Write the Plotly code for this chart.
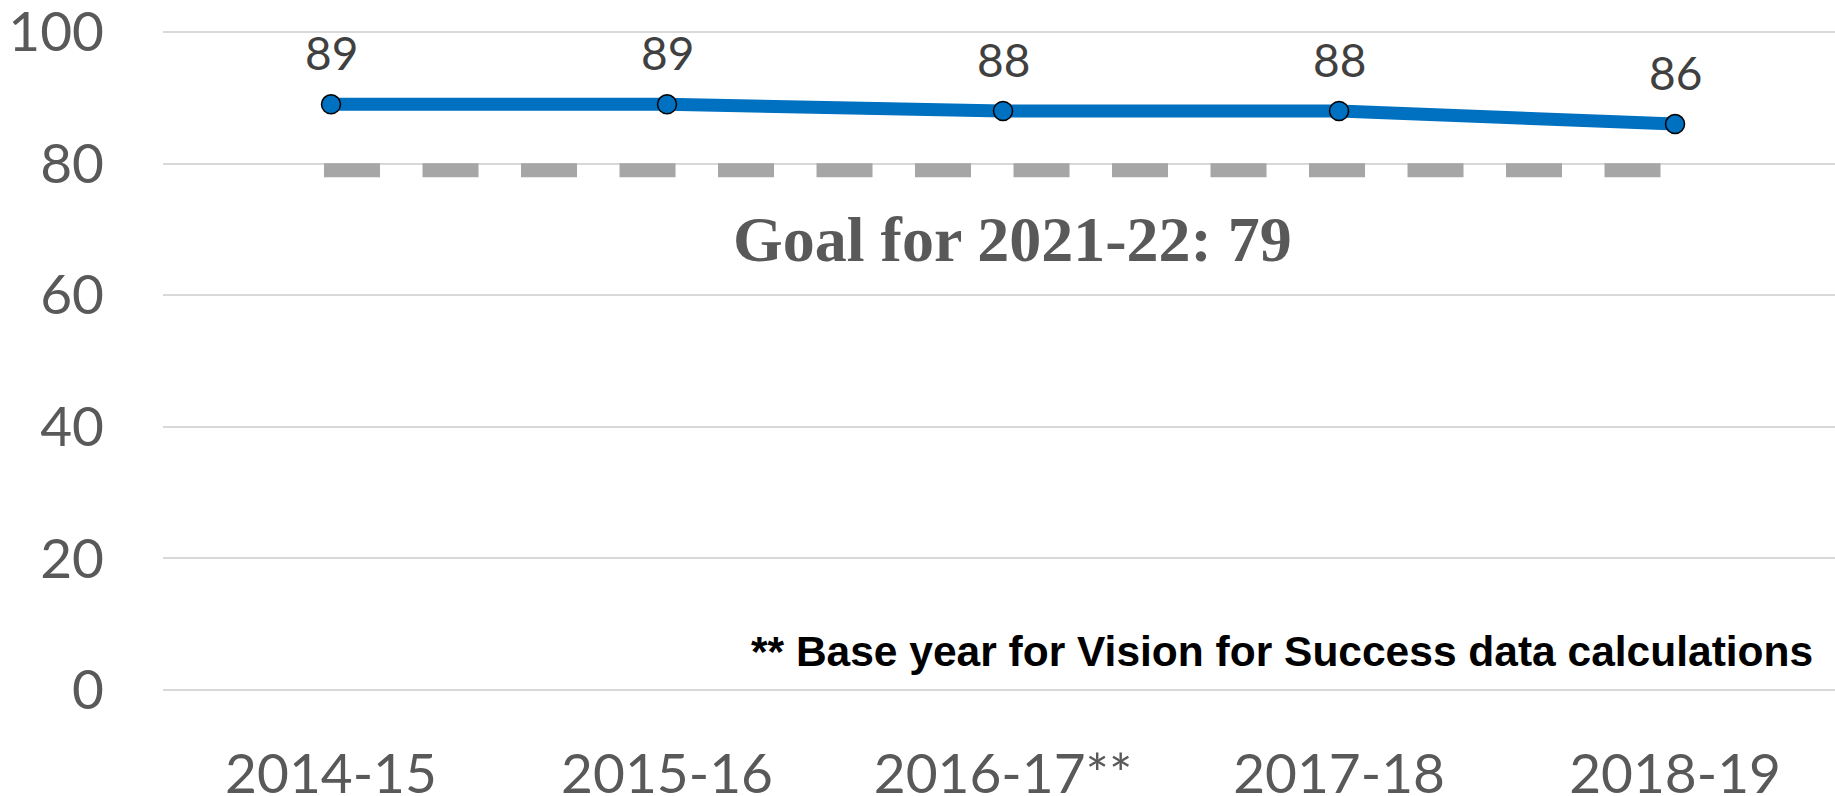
import plotly.graph_objects as go

categories = ["2014-15", "2015-16", "2016-17**", "2017-18", "2018-19"]
values = [89, 89, 88, 88, 86]
goal_value = 79
goal_label = "Goal for 2021-22: 79"
footnote = "** Base year for Vision for Success data calculations"
y_ticks = [0, 20, 40, 60, 80, 100]

x_idx = list(range(len(categories)))

# goal line emulates round caps by extending half its width past the end categories
goal_width = 14
px_per_cat = 336
cap = goal_width / 2 / px_per_cat

fig = go.Figure()

# Goal dashed line
fig.add_trace(go.Scatter(
    x=[x_idx[0] - cap, x_idx[-1] + cap], y=[goal_value, goal_value],
    mode="lines",
    line=dict(color="#A6A6A6", width=goal_width, dash="56px,42.5px"),
    hoverinfo="skip", showlegend=False,
))

# Main series
fig.add_trace(go.Scatter(
    x=x_idx, y=values,
    mode="lines+markers",
    line=dict(color="#0070C0", width=13),
    marker=dict(size=19, color="#0070C0", line=dict(color="black", width=1.5)),
    showlegend=False,
))

annotations = []
for xi, v in zip(x_idx, values):
    annotations.append(dict(
        x=xi, y=v, xref="x", yref="y", text=str(v), showarrow=False,
        yanchor="bottom", xanchor="center", yshift=22,
        font=dict(family="Lato", size=46, color="#404040"),
    ))

annotations.append(dict(
    x=0.508, y=0.683, xref="paper", yref="paper", text="<b>" + goal_label + "</b>",
    showarrow=False, xanchor="center", yanchor="middle",
    font=dict(family="Liberation Serif", size=64, color="#595959"),
))
annotations.append(dict(
    x=0.988, y=0.059, xref="paper", yref="paper", text="<b>" + footnote + "</b>",
    showarrow=False, xanchor="right", yanchor="middle",
    font=dict(family="Liberation Sans", size=42.5, color="black"),
))

fig.update_layout(
    width=1835, height=796,
    margin=dict(l=163, r=0, t=30, b=106),
    paper_bgcolor="white", plot_bgcolor="white",
    annotations=annotations,
    xaxis=dict(
        range=[-0.5, 4.476], tickmode="array", tickvals=x_idx, ticktext=categories,
        showgrid=False, zeroline=False, showline=False, ticks="",
        tickfont=dict(family="Lato", size=55, color="#595959"),
        ticklabelstandoff=47, automargin=False, ticklabeloverflow="allow",
    ),
    yaxis=dict(
        range=[0, 100.3], tickmode="array", tickvals=y_ticks,
        showgrid=True, gridcolor="#D9D9D9", gridwidth=1.5,
        zeroline=True, zerolinecolor="#D9D9D9", zerolinewidth=1.5,
        showline=False, ticks="",
        tickfont=dict(family="Lato", size=55, color="#595959"),
        ticklabelstandoff=58, automargin=False, ticklabeloverflow="allow",
    ),
)

fig.write_html("out.html", config={"displayModeBar": False},
               post_script="document.body.style.margin='0';")
